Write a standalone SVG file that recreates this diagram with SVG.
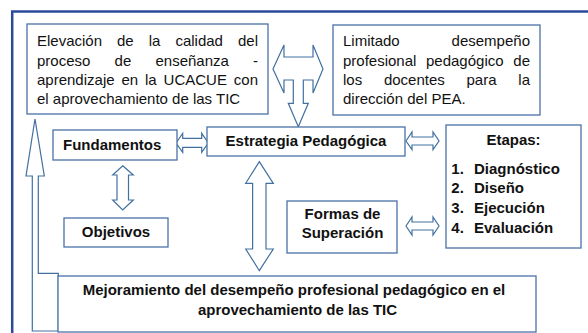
<svg xmlns="http://www.w3.org/2000/svg" width="588" height="333" viewBox="0 0 588 333">
<style>
.box{fill:#fff;stroke:#4a72a8;stroke-width:1.3}
.arr{fill:#fff;stroke:#41709f;stroke-width:1.2;stroke-linejoin:miter}
.t{font-family:"Liberation Sans",Arial,sans-serif;font-size:15px;fill:#111}
.b{font-family:"Liberation Sans",Arial,sans-serif;font-size:15px;font-weight:bold;fill:#111}
</style>
<rect width="588" height="333" fill="#fff"/>
<g id="frame">
<path d="M12.2,333 V11.5 H588" fill="none" stroke="#2b4a9c" stroke-width="2.5"/>
</g>
<g id="connectors">
<polygon class="arr" points="273,69 284,45 284,57 313,57 313,45 323,69 313,93 313,80 303.3,80 303.3,103.3 308.3,103.3 298.3,126.7 288.3,103.3 293.3,103.3 293.3,80 284,80 284,93"/>
<polygon class="arr" points="176,143 182.7,133.3 182.7,138.3 201.7,138.3 201.7,133.3 208.3,143 201.7,152.3 201.7,147.3 182.7,147.3 182.7,152.3"/>
<polygon class="arr" points="406,141 412,132 412,137 433,137 433,132 439,141 433,149.5 433,145 412,145 412,149.5"/>
<polygon class="arr" points="406,226 412,217 412,222 433,222 433,217 439,226 433,235 433,230 412,230 412,235"/>
<polygon class="arr" points="122.7,165.7 133.3,175 128.5,175 128.5,200 133.3,200 122.7,210 112.7,200 117,200 117,175 112.7,175"/>
<polygon class="arr" points="259.3,161.7 273.3,183.3 266,183.3 266,249 273.3,249 259.3,270.7 245.7,249 252.6,249 252.6,183.3 245.7,183.3"/>
<polygon class="arr" points="35,119 44.3,176 38.3,176 38.3,273.3 58.3,273.3 58.3,331 32.3,331 32.3,176 26,176"/>
</g>
<g id="node-elevacion">
<rect class="box" x="27" y="24" width="241" height="90"/>
<text class="t" y="46"><tspan x="37">Elevación</tspan><tspan x="117">de</tspan><tspan x="148.7">la</tspan><tspan x="175.4">calidad</tspan><tspan x="238">del</tspan></text>
<text class="t" y="65.5"><tspan x="37">proceso</tspan><tspan x="114.6">de</tspan><tspan x="155.5">enseñanza</tspan><tspan x="253">-</tspan></text>
<text class="t" y="85"><tspan x="37">aprendizaje</tspan><tspan x="121.4">en</tspan><tspan x="145">la</tspan><tspan x="163.6">UCACUE</tspan><tspan x="233.8">con</tspan></text>
<text class="t" x="37" y="104">el aprovechamiento de las TIC</text>
</g>
<g id="node-limitado">
<rect class="box" x="333" y="25" width="207" height="90"/>
<text class="t" y="46"><tspan x="343">Limitado</tspan><tspan x="451.6">desempeño</tspan></text>
<text class="t" y="65.5"><tspan x="343">profesional</tspan><tspan x="426">pedagógico</tspan><tspan x="513.3">de</tspan></text>
<text class="t" y="85"><tspan x="343">los</tspan><tspan x="383.9">docentes</tspan><tspan x="466.5">para</tspan><tspan x="518.3">la</tspan></text>
<text class="t" x="343" y="104">dirección del PEA.</text>
</g>
<g id="node-fundamentos">
<rect class="box" x="53" y="130" width="124" height="30"/>
<text class="b" x="63" y="150">Fundamentos</text>
</g>
<g id="node-estrategia">
<rect class="box" x="207" y="127" width="198" height="29"/>
<text class="b" x="306" y="146" text-anchor="middle">Estrategia Pedagógica</text>
</g>
<g id="node-objetivos">
<rect class="box" x="64" y="218" width="104" height="29"/>
<text class="b" x="116" y="237" text-anchor="middle">Objetivos</text>
</g>
<g id="node-formas">
<rect class="box" x="287" y="201" width="110" height="52"/>
<text class="b" x="342.5" y="219" text-anchor="middle">Formas de</text>
<text class="b" x="342.5" y="238" text-anchor="middle">Superación</text>
</g>
<g id="node-etapas">
<rect class="box" x="446" y="125" width="135" height="123"/>
<text class="b" x="513.5" y="145" text-anchor="middle">Etapas:</text>
<text class="b" y="173.5"><tspan x="451.3">1.</tspan><tspan x="474">Diagnóstico</tspan></text>
<text class="b" y="193"><tspan x="451.3">2.</tspan><tspan x="474">Diseño</tspan></text>
<text class="b" y="212.7"><tspan x="451.3">3.</tspan><tspan x="474">Ejecución</tspan></text>
<text class="b" y="232.5"><tspan x="451.3">4.</tspan><tspan x="474">Evaluación</tspan></text>
</g>
<g id="node-mejoramiento">
<rect class="box" x="58" y="276" width="478" height="56"/>
<text class="b" x="294" y="295" text-anchor="middle">Mejoramiento del desempeño profesional pedagógico en el</text>
<text class="b" x="297.5" y="314.5" text-anchor="middle">aprovechamiento de las TIC</text>
</g>
</svg>
